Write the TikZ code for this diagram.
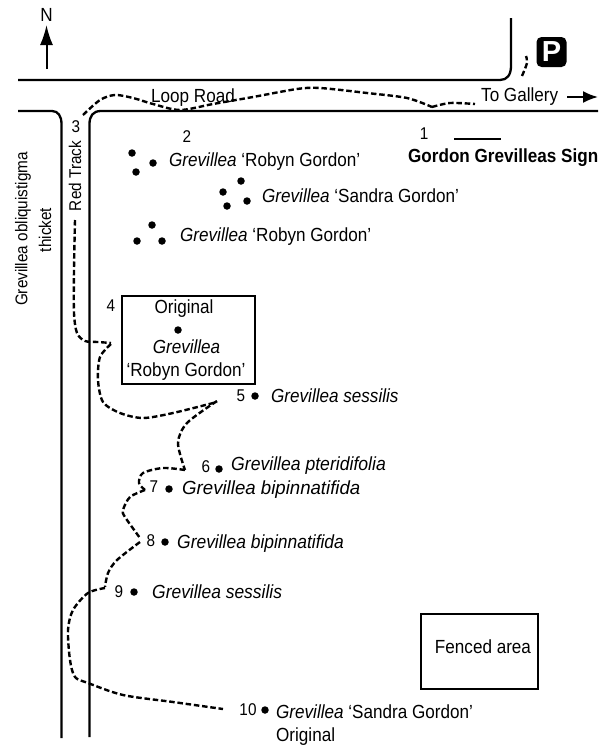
\documentclass[tikz,border=0pt]{standalone}
\usepackage{fontspec}
\setmainfont{Liberation Sans}
\usetikzlibrary{arrows.meta}
\tikzset{
	road/.style={draw=black, line width=2.3pt},
	trail/.style={draw=black, line width=2.4pt, dash pattern=on 5.5pt off 2.8pt},
	plantdot/.style={circle, fill=black, inner sep=0pt, minimum size=7.5pt},
	lbl/.style={black, inner sep=0pt, font=\fontsize{19}{21}\selectfont, xscale=0.9},
	numlbl/.style={black, inner sep=0pt, font=\fontsize{17}{19}\selectfont, xscale=0.9},
	sidelbl/.style={black, inner sep=0pt, font=\fontsize{17}{19}\selectfont, xscale=0.9},
	txt/.style={lbl, anchor=west},
}
\newcommand{\grev}{\textit{Grevillea}}
\begin{document}
\begin{tikzpicture}[x=1pt,y=-1pt]
	\useasboundingbox (0,0) rectangle (598,747);
	% roads
	\draw[road] (18,80) -- (500,80) .. controls (507,80) and (511,75) .. (511,66) -- (511,18);
	\draw[road] (598,111) -- (101,111) .. controls (93,111) and (89.5,116) .. (89.5,124) -- (89.5,737);
	\draw[road] (18,111) -- (52,111) .. controls (58,111) and (61.5,116) .. (61.5,124) -- (61.5,738);
	% north
	\node[lbl] (north) at (46.5,15) {N};
	\coordinate (northfoot) at (46.5,69);
	\coordinate (northtip) at (46.5,25);
	\draw[draw=black, -{Latex[length=20pt,width=13pt]}, line width=2pt] (northfoot) -- (northtip);
	% parking
	\node[fill=black, rounded corners=5pt, minimum size=30pt, inner sep=0pt, text=white, font=\fontsize{29}{29}\bfseries\selectfont] (park) at (551.5,52) {P};
	\draw[trail] plot[smooth] coordinates {(522,76) (527,63) (526,56)};
	% trail from the road to plant 4
	\draw[trail] plot[smooth] coordinates {(83,115) (100,100) (115,95) (133,98) (153,104) (180,110) (213,104) (253,97) (297,89) (320,88) (367,93) (407,98) (432,107)};
	\draw[trail] plot[smooth] coordinates {(432,107) (450,103) (475,104)};
	\draw[trail] plot[smooth] coordinates {(75,220) (74,270) (74,313) (77,333) (85,341) (98,342) (111,343)};
	% trail from 4 to 10
	\draw[trail] plot[smooth] coordinates {(111,344) (100,357) (98,380) (103,402) (120,413) (143,418) (173,413) (217,402)};
	\draw[trail] plot[smooth] coordinates {(217,401) (187,423) (178,443) (185,470)};
	\draw[trail] plot[smooth] coordinates {(185,470) (163,468) (143,473) (139,483) (145,490)};
	\draw[trail] plot[smooth] coordinates {(145,490) (130,497) (123,510) (125,517) (140,538)};
	\draw[trail] plot[smooth] coordinates {(140,542) (117,560) (108,573) (105,587)};
	\draw[trail] plot[smooth] coordinates {(105,588) (88,593) (73,610) (68,630) (70,660) (75,677) (88,683) (123,695) (173,702) (223,709)};
	% road labels
	\node[lbl] (loop) at (193,98) {Loop Road};
	\node[txt] (gallery) at (481,97) {To Gallery};
	\coordinate (galleryfoot) at (567,97);
	\coordinate (gallerytip) at (598,97);
	\draw[draw=black, -{Latex[length=15pt,width=12pt]}, line width=2pt] (galleryfoot) -- (gallerytip);
	\node[numlbl] (three) at (76,127) {3};
	\node[rotate=90, sidelbl] (redtrack) at (75,176) {Red Track};
	\node[rotate=90, sidelbl] (obliq) at (23,229) {Grevillea obliquistigma};
	\node[rotate=90, sidelbl] (thicket) at (45,230) {thicket};
	% sign
	\node[numlbl] (one) at (424,134) {1};
	\coordinate (signa) at (454,139);
	\coordinate (signb) at (501,139);
	\draw[road] (signa) -- (signb);
	\node[txt, font=\fontsize{19}{21}\bfseries\selectfont] (sign) at (408,158) {Gordon Grevilleas Sign};
	% plantings of 2
	\node[numlbl] (two) at (187,137) {2};
	\node[plantdot] (ra) at (132,153) {};
	\node[plantdot] (rb) at (153,163) {};
	\node[plantdot] (rc) at (136,172) {};
	\node[txt] (robyna) at (169,162) {\grev{} ‘Robyn Gordon’};
	\node[plantdot] (sa) at (241,181) {};
	\node[plantdot] (sb) at (223,192) {};
	\node[plantdot] (sc) at (247,201) {};
	\node[plantdot] (sd) at (227,206) {};
	\node[txt] (sandra) at (262,196) {\grev{} ‘Sandra Gordon’};
	\node[plantdot] (ta) at (152,225) {};
	\node[plantdot] (tb) at (137,241) {};
	\node[plantdot] (tc) at (162,241) {};
	\node[txt] (robynb) at (180,237) {\grev{} ‘Robyn Gordon’};
	% original plant
	\draw[draw=black, line width=2.8pt] (122,296) rectangle (255,384);
	\node[numlbl] (four) at (111,306) {4};
	\node[lbl] (orig) at (184,309) {Original};
	\node[plantdot] (d4) at (178,330) {};
	\node[lbl] (origg) at (186.5,347) {\grev};
	\node[lbl] (origr) at (186,372) {‘Robyn Gordon’};
	% numbered plants
	\node[numlbl] (five) at (241,396) {5};
	\node[plantdot] (d5) at (255,396) {};
	\node[txt] (t5) at (271,396) {\textit{Grevillea sessilis}};
	\node[numlbl] (six) at (206,467) {6};
	\node[plantdot] (d6) at (219,469) {};
	\node[txt, xscale=1.03] (t6) at (231,466) {\textit{Grevillea pteridifolia}};
	\node[numlbl] (seven) at (154,487) {7};
	\node[plantdot] (d7) at (169,489) {};
	\node[txt, xscale=1.09] (t7) at (182,490) {\textit{Grevillea bipinnatifida}};
	\node[numlbl] (eight) at (151,541) {8};
	\node[plantdot] (d8) at (165,542) {};
	\node[txt, xscale=1.02] (t8) at (177,544) {\textit{Grevillea bipinnatifida}};
	\node[numlbl] (nine) at (119,592) {9};
	\node[plantdot] (d9) at (134,592) {};
	\node[txt, xscale=1.02] (t9) at (152,592) {\textit{Grevillea sessilis}};
	\node[numlbl] (ten) at (248,710) {10};
	\node[plantdot] (d10) at (265,710) {};
	\node[txt] (t10) at (276,712) {\grev{} ‘Sandra Gordon’};
	\node[txt] (t10b) at (276,737) {Original};
	% fence
	\draw[draw=black, line width=2.5pt] (421,614) rectangle (538,689);
	\node[lbl] (fenced) at (483,647) {Fenced area};
\end{tikzpicture}
\end{document}
